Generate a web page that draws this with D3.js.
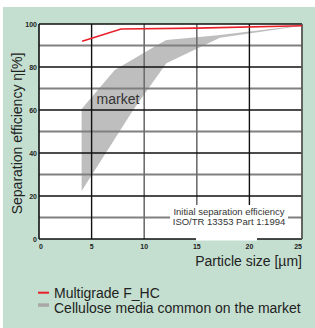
<!DOCTYPE html>
<html><head><meta charset="utf-8">
<script src="https://cdn.jsdelivr.net/npm/d3@7"></script>
<style>html,body{margin:0;padding:0;background:#fff}svg{display:block}</style>
</head><body>
<script>
const xTicks = [0, 5, 10, 15, 20, 25];
const yTicks = [0, 20, 40, 60, 80, 100];
const minorY = [10, 30, 50, 70, 90];
const majorX = [5, 20];
const minorX = [10, 15];
const redX = [4.1, 7.8, 15, 25];
const redY = [92, 97.7, 98.1, 99.2];
const bandUpperX = [4.05, 7.2, 11.0, 12.1, 17.0, 25];
const bandUpperY = [60.5, 78.6, 89.5, 92.6, 94.8, 99.4];
const bandLowerX = [4.05, 8.95, 12.1, 17.2, 25];
const bandLowerY = [22.3, 60, 81.7, 93.6, 99.2];
const legendLabels = ["Multigrade F_HC", "Cellulose media common on the market"];

const W = 315, H = 328;
const svg = d3.select("body").append("svg").attr("width", W).attr("height", H)
  .style("font-family", "'Liberation Sans', Arial, sans-serif");
svg.append("rect").attr("x", 3).attr("y", 7).attr("width", W - 3).attr("height", H - 7).attr("fill", "#c4dfd0");

const x = d3.scaleLinear().domain([0, 25]).range([39, 302]);
const y = d3.scaleLinear().domain([0, 100]).range([239, 24]);

svg.append("rect").attr("x", x(0)).attr("y", y(100)).attr("width", x(25) - x(0)).attr("height", y(0) - y(100)).attr("fill", "#fff");

// band
const bandPts = bandUpperX.map((d, i) => [x(d), y(bandUpperY[i])])
  .concat(bandLowerX.map((d, i) => [x(d), y(bandLowerY[i])]).reverse());
svg.append("path").attr("d", d3.line()(bandPts) + "Z").attr("fill", "#bebebf");

// grid
const g = svg.append("g");
g.selectAll(".mh").data(minorY).join("line").attr("x1", x(0)).attr("x2", x(25))
  .attr("y1", d => y(d)).attr("y2", d => y(d)).attr("stroke", "#808080").attr("stroke-width", 2);
g.selectAll(".mv").data(minorX).join("line").attr("y1", y(0)).attr("y2", y(100))
  .attr("x1", d => x(d)).attr("x2", d => x(d)).attr("stroke", "#6e6e6e").attr("stroke-width", 1.6);
g.selectAll(".Mh").data(yTicks.filter(d => d > 0 && d < 100)).join("line").attr("x1", x(0)).attr("x2", x(25))
  .attr("y1", d => y(d)).attr("y2", d => y(d)).attr("stroke", "#111").attr("stroke-width", 1.4);
g.selectAll(".Mv").data(majorX).join("line").attr("y1", y(0)).attr("y2", y(100))
  .attr("x1", d => x(d)).attr("x2", d => x(d)).attr("stroke", "#111").attr("stroke-width", 1.4);
// border
g.append("line").attr("x1", x(0)).attr("x2", x(0)).attr("y1", y(0)).attr("y2", y(100)).attr("stroke", "#111").attr("stroke-width", 1.6);
g.append("line").attr("x1", x(0)).attr("x2", x(25)).attr("y1", y(100)).attr("y2", y(100)).attr("stroke", "#111").attr("stroke-width", 1.6);
g.append("line").attr("x1", x(0)).attr("x2", x(25)).attr("y1", y(0)).attr("y2", y(0)).attr("stroke", "#111").attr("stroke-width", 1.6);
g.append("line").attr("x1", x(25)).attr("x2", x(25)).attr("y1", y(0)).attr("y2", y(100)).attr("stroke", "#555").attr("stroke-width", 1.8);

// note box
svg.append("rect").attr("x", 170).attr("y", 205).attr("width", 118).attr("height", 23).attr("fill", "#fff");
svg.append("rect").attr("x", 196).attr("y", 228).attr("width", 61).attr("height", 12.5).attr("fill", "#fff");
svg.append("text").attr("x", 229).attr("y", 214.5).attr("text-anchor", "middle").attr("font-size", 9.5).attr("fill", "#333")
  .text("Initial separation efficiency");
svg.append("text").attr("x", 229).attr("y", 225).attr("text-anchor", "middle").attr("font-size", 9.5).attr("fill", "#333")
  .text("ISO/TR 13353 Part 1:1994");

// market label
svg.append("text").attr("x", 118).attr("y", 104).attr("text-anchor", "middle").attr("font-size", 14).attr("fill", "#333").text("market");

// red line
svg.append("path").attr("d", d3.line()(redX.map((d, i) => [x(d), y(redY[i])])))
  .attr("fill", "none").attr("stroke", "#e8202a").attr("stroke-width", 1.6);

// tick labels
svg.selectAll(".yt").data(yTicks).join("text").attr("x", 37).attr("y", d => y(d) + 2.5)
  .attr("text-anchor", "end").attr("font-size", 7).attr("font-weight", "bold").attr("fill", "#222").text(d => d);
svg.selectAll(".xt").data(xTicks).join("text").attr("x", d => d === 0 ? x(0) : d === 25 ? x(25) : x(d))
  .attr("y", 248.5).attr("text-anchor", d => d === 0 ? "start" : d === 25 ? "end" : "middle")
  .attr("font-size", 7).attr("font-weight", "bold").attr("fill", "#222").text(d => d);

// axis titles
svg.append("text").attr("transform", `translate(22,${(y(0) + y(100)) / 2 + 2}) rotate(-90)`)
  .attr("text-anchor", "middle").attr("font-size", 14).attr("fill", "#222").text("Separation efficiency η[%]");
svg.append("text").attr("x", 302).attr("y", 266).attr("text-anchor", "end").attr("font-size", 14).attr("fill", "#222")
  .text("Particle size [µm]");

// legend
svg.append("line").attr("x1", 38).attr("x2", 49).attr("y1", 292.7).attr("y2", 292.7).attr("stroke", "#e8202a").attr("stroke-width", 2);
svg.append("rect").attr("x", 38).attr("y", 303.3).attr("width", 11).attr("height", 3.5).attr("fill", "#a8a8a8");
svg.selectAll(".lg").data(legendLabels).join("text").attr("x", 54).attr("y", (d, i) => 297.5 + i * 15.5)
  .attr("font-size", 14).attr("fill", "#222").text(d => d);
</script>
</body></html>
